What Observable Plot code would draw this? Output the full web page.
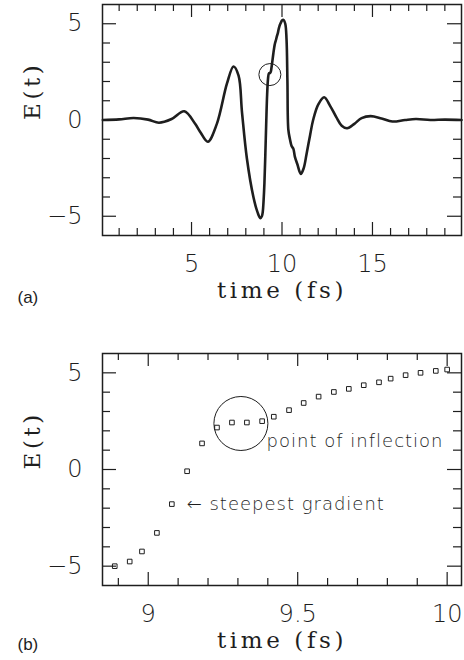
<!DOCTYPE html>
<html><head><meta charset="utf-8">
<script src="https://cdn.jsdelivr.net/npm/d3@7"></script>
<script src="https://cdn.jsdelivr.net/npm/@observablehq/plot@0.6"></script>
<style>
body{margin:0;background:#fff;}
#chart svg{display:block;}
</style></head><body><div id="chart"></div>
<script>
// Panel (a): full pulse E(t)
const pulseTime = [0.1, 1.0, 1.8, 2.6, 3.2, 3.9, 4.6, 5.2, 5.5, 5.9, 6.4, 6.96, 7.32, 7.6, 7.79, 8.06, 8.42, 8.65, 8.8,
  8.888, 8.938, 8.979, 9.029, 9.079, 9.13, 9.18, 9.23, 9.28, 9.33, 9.38, 9.42, 9.47, 9.52, 9.57, 9.62, 9.67, 9.72, 9.77,
  9.81, 9.86, 9.91, 9.96, 10.0, 10.08, 10.18, 10.25, 10.3, 10.35, 10.44, 10.53, 10.63, 10.71, 10.85, 11.04, 11.2, 11.36,
  11.55, 11.72, 12.0, 12.33, 12.65, 13.0, 13.3, 13.6, 14.0, 14.4, 14.9, 15.5, 16.1, 16.8, 17.4, 18.2, 19.0, 19.92];
const pulseField = [0, 0.03, 0.1, 0.02, -0.14, 0.05, 0.45, -0.2, -0.65, -1.13, -0.2, 1.9, 2.78, 2.3, 0.4, -2.0, -4.0, -4.8, -5.1,
  -5.0, -4.76, -4.24, -3.28, -1.79, -0.09, 1.35, 2.17, 2.43, 2.43, 2.5, 2.73, 3.07, 3.44, 3.77, 4.01, 4.17, 4.36, 4.51,
  4.7, 4.88, 5.0, 5.1, 5.17, 5.2, 5.0, 4.2, 2.0, -0.5, -1.0, -1.35, -1.5, -1.9, -2.3, -2.8, -2.5, -1.75,
  -0.8, 0, 0.8, 1.18, 0.75, 0.15, -0.3, -0.43, -0.2, 0.1, 0.2, 0.08, -0.08, 0.0, 0.05, 0.0, 0.02, 0];

// Panel (b): sampled points around the steep rise
const zoomTime = [8.888, 8.938, 8.979, 9.029, 9.079, 9.13, 9.18, 9.23, 9.28, 9.33, 9.381, 9.42, 9.471, 9.52, 9.57,
  9.621, 9.671, 9.721, 9.772, 9.811, 9.861, 9.911, 9.962, 10.0];
const zoomField = [-5.0, -4.76, -4.24, -3.28, -1.79, -0.09, 1.35, 2.17, 2.43, 2.43, 2.5, 2.73, 3.07, 3.44, 3.77,
  4.01, 4.17, 4.36, 4.51, 4.7, 4.88, 5.0, 5.1, 5.17];

// Tick values
const aXMajor = [5, 10, 15];
const aXMinor = [1, 2, 3, 4, 6, 7, 8, 9, 11, 12, 13, 14, 16, 17, 18, 19];
const bXMajor = [9, 9.5, 10];
const bXMinor = [8.9, 9.1, 9.2, 9.3, 9.4, 9.6, 9.7, 9.8, 9.9];
const yMajor = [-5, 0, 5];
const yMinor = [-4, -3, -2, -1, 1, 2, 3, 4];

// Texts
const panelLabels = ["(a)", "(b)"];
const xLabel = "time (fs)";
const yLabel = "E(t)";
const annotationText = ["\u2190 steepest gradient", "point of inflection"];
const annotationTime = [9.1285, 9.396];
const annotationField = [-1.79, 1.46];
// inflection circle centres (a), (b)
const circleTime = [9.33, 9.31];
const circleField = [2.36, 2.38];

const W = 464;
const tickFont = "'DejaVu Sans ExtraLight', 'DejaVu Sans'";
const labelFont = "'DejaVu Serif'";
const ink = "#1e1e1e";
const numFmt = d3.format("~g");
const yFmt = d => numFmt(d).replace("-", "\u2212");

function frameTicks(xMaj, xMin, H, Wf) {
  const o = {stroke: ink, strokeWidth: 1.2};
  return [
    Plot.tickX(xMaj, {x: d => d, insetTop: H - 13, ...o}),
    Plot.tickX(xMaj, {x: d => d, insetBottom: H - 13, ...o}),
    Plot.tickX(xMin, {x: d => d, insetTop: H - 7, ...o}),
    Plot.tickX(xMin, {x: d => d, insetBottom: H - 7, ...o}),
    Plot.tickY(yMajor, {y: d => d, insetRight: Wf - 14, ...o}),
    Plot.tickY(yMajor, {y: d => d, insetLeft: Wf - 14, ...o}),
    Plot.tickY(yMinor, {y: d => d, insetRight: Wf - 8, ...o}),
    Plot.tickY(yMinor, {y: d => d, insetLeft: Wf - 8, ...o})
  ];
}

function axes(xTicks, panel) {
  return [
    Plot.axisX({ticks: xTicks, tickFormat: numFmt, tickSize: 0, tickPadding: 19, fontSize: 24, label: null, fontFamily: tickFont, fontWeight: 200, fill: ink}),
    Plot.axisY({ticks: yMajor, tickFormat: yFmt, tickSize: 0, tickPadding: 20, fontSize: 24, label: null, fontFamily: tickFont, fontWeight: 200, fill: ink}),
    Plot.text([xLabel], {frameAnchor: "bottom", lineAnchor: "middle", text: d => d, dy: 55, fontSize: 23, fontFamily: labelFont, fill: ink}),
    Plot.text([yLabel], {frameAnchor: "left", lineAnchor: "middle", text: d => d, dx: -70, rotate: -90, fontSize: 23, fontFamily: labelFont, fill: ink}),
    Plot.text([panelLabels[panel]], {frameAnchor: "bottom-left", lineAnchor: "middle", text: d => d, textAnchor: "start", dx: -85, dy: panel === 0 ? 62 : 59, fontSize: 17, fontFamily: "Liberation Sans", fill: ink})
  ];
}

function spaceLabels(svg) {
  d3.select(svg).selectAll("text").each(function() {
    const t = this.textContent;
    if (t === xLabel || t === yLabel) d3.select(this).style("letter-spacing", "3.6px");
    if (annotationText.includes(t)) d3.select(this).style("letter-spacing", "1px");
  });
}

// Panel (a)
{
  const H = 320, mt = 4, mb = 85, ml = 102, mr = 3;
  const fh = H - mt - mb, fw = W - ml - mr;
  const idx = d3.range(pulseTime.length);
  const p = Plot.plot({
    width: W, height: H, marginTop: mt, marginBottom: mb, marginLeft: ml, marginRight: mr,
    x: {domain: [0.08, 19.92]},
    y: {domain: [-6, 6]},
    style: {fontFamily: "'DejaVu Sans'", background: "#fff", overflow: "visible"},
    marks: [
      Plot.frame({stroke: ink, strokeWidth: 1.5}),
      ...frameTicks(aXMajor, aXMinor, fh, fw),
      Plot.line(idx, {x: i => pulseTime[i], y: i => pulseField[i], curve: "catmull-rom", stroke: ink, strokeWidth: 2.6}),
      Plot.dot([0], {x: i => circleTime[i], y: i => circleField[i], r: 11, stroke: ink, strokeWidth: 1, fill: "none"}),
      ...axes(aXMajor, 0)
    ]
  });
  document.getElementById("chart").append(p);
  spaceLabels(p);
}

// Panel (b)
{
  const H = 340, mt = 33, mb = 75, ml = 102, mr = 3;
  const fh = H - mt - mb, fw = W - ml - mr;
  const idx = d3.range(zoomTime.length);
  const p = Plot.plot({
    width: W, height: H, marginTop: mt, marginBottom: mb, marginLeft: ml, marginRight: mr,
    x: {domain: [8.847, 10.048]},
    y: {domain: [-6, 6]},
    style: {fontFamily: "'DejaVu Sans'", background: "#fff", overflow: "visible"},
    marks: [
      Plot.frame({stroke: ink, strokeWidth: 1.5}),
      ...frameTicks(bXMajor, bXMinor, fh, fw),
      Plot.dot(idx, {x: i => zoomTime[i], y: i => zoomField[i], symbol: "square", r: 2.6, stroke: ink, strokeWidth: 1, fill: "none"}),
      Plot.dot([1], {x: i => circleTime[i], y: i => circleField[i], r: 27, stroke: ink, strokeWidth: 1, fill: "none"}),
      Plot.text(annotationText, {x: (d, i) => annotationTime[i], y: (d, i) => annotationField[i], text: d => d, textAnchor: "start", fontSize: 18, fontFamily: tickFont, fontWeight: 200, fill: ink}),
      ...axes(bXMajor, 1)
    ]
  });
  document.getElementById("chart").append(p);
  spaceLabels(p);
}
</script></body></html>
